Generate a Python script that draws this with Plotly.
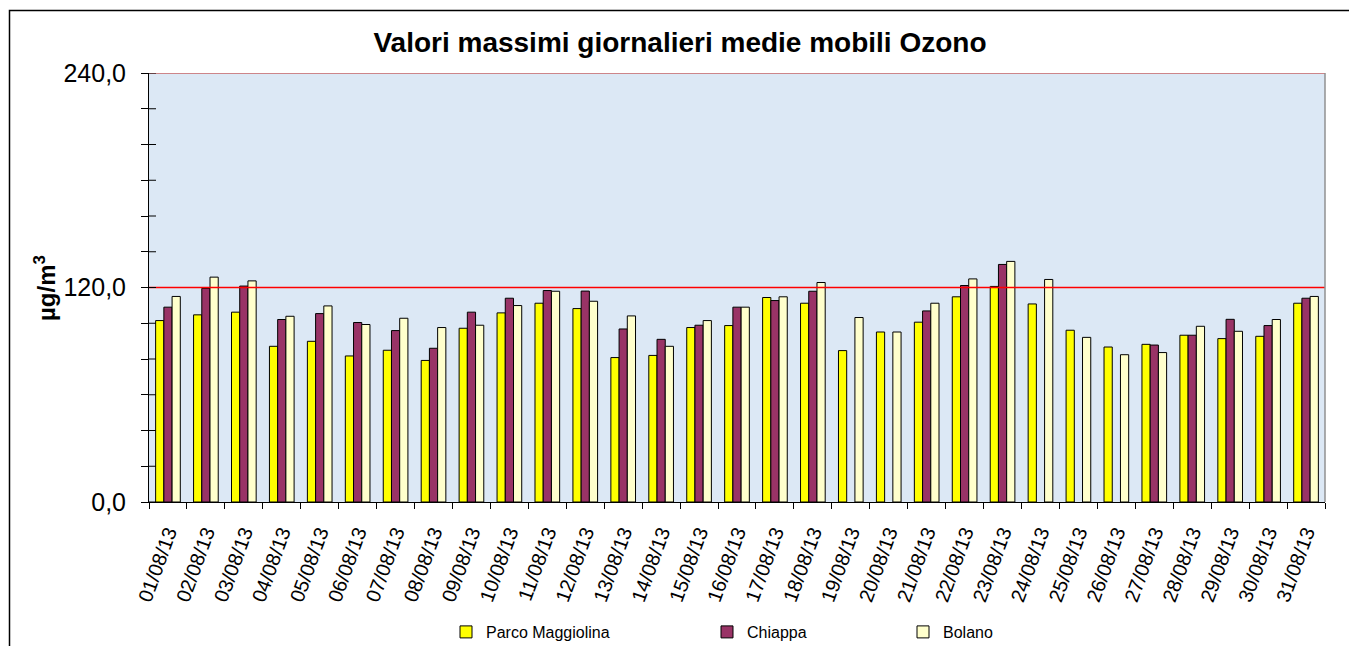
import plotly.graph_objects as go

days = [f"{d:02d}/08/13" for d in range(1, 32)]

parco = [101.5, 104.7, 106.2, 87.1, 89.9, 81.7, 84.9, 79.2, 97.2, 105.8,
         111.2, 108.2, 80.8, 82.0, 97.6, 98.7, 114.4, 111.2, 84.7, 95.1,
         100.6, 114.8, 120.6, 110.8, 96.1, 86.7, 88.2, 93.3, 91.4, 92.7, 111.2]
chiappa = [109.0, 119.5, 120.8, 102.1, 105.4, 100.4, 95.9, 86.0, 106.2, 114.0,
           118.3, 118.0, 96.8, 91.0, 98.9, 109.0, 112.7, 117.9, None, None,
           106.9, 121.1, 132.9, None, None, None, 87.8, 93.3, 102.2, 98.7, 114.0]
bolano = [115.0, 125.8, 123.7, 103.9, 109.7, 99.3, 102.8, 97.6, 98.9, 109.9,
          117.9, 112.3, 104.1, 87.1, 101.5, 109.0, 114.8, 122.8, 103.2, 95.1,
          111.2, 124.8, 134.6, 124.5, 92.1, 82.4, 83.6, 98.3, 95.5, 102.1, 115.0]

series_names = ["Parco Maggiolina", "Chiappa", "Bolano"]
series_colors = ["#ffff00", "#993366", "#ffffcc"]
threshold = 120
y_ticks = [0, 120, 240]
y_ticktext = ["0,0", "120,0", "240,0"]

FONT = "Arial, Liberation Sans, sans-serif"

fig = go.Figure()
for i, (name, vals, col) in enumerate(zip(series_names, [parco, chiappa, bolano], series_colors)):
    fig.add_trace(go.Bar(
        x=days, y=vals, name=name, showlegend=True,
        marker=dict(color=col, line=dict(color="black", width=1)),
        legend="legend" if i == 0 else f"legend{i+1}",
    ))

W, H = 1349, 646
L, R, T, B = 149, 24, 73, 144
pw, ph = W - L - R, H - T - B

def px_x(p):
    return (p - L) / pw

def px_y(p):
    return (H - B - p) / ph

legend_common = dict(orientation="h", yanchor="middle", xanchor="left",
                     xref="container", yref="container", visible=True,
                     font=dict(family=FONT, size=16, color="black"),
                     bgcolor="rgba(0,0,0,0)", y=1 - 632 / H)

# inner (cross) tick marks on the y axis, drawn as short shapes
cross_ticks = [dict(type="line", xref="paper", yref="y", x0=0, x1=px_x(L + 7),
                    y0=v, y1=v, line=dict(color="black", width=1))
               for v in range(0, 241, 20)]

fig.update_layout(
    width=W, height=H,
    showlegend=True,
    margin=dict(l=L, r=R, t=T, b=B, autoexpand=False),
    paper_bgcolor="white",
    plot_bgcolor="#dce8f5",
    font=dict(family=FONT, color="black"),
    barmode="group", bargap=0.35, bargroupgap=0,
    title=dict(text="<b>Valori massimi giornalieri medie mobili Ozono</b>",
               x=680 / W, xref="container", xanchor="center",
               y=1 - 42 / H, yref="container", yanchor="middle",
               font=dict(family=FONT, size=28, color="black")),
    legend=dict(x=446 / W, **legend_common),
    legend2=dict(x=707 / W, **legend_common),
    legend3=dict(x=903 / W, **legend_common),
    xaxis=dict(type="category", showgrid=False, showline=True, linecolor="black",
               linewidth=1, ticks="outside", ticklen=6, tickcolor="black",
               tickson="boundaries", tickangle=-70, automargin=False,
               ticklabelstandoff=10,
               range=[-0.5, len(days) - 0.5],
               tickfont=dict(family=FONT, size=20, color="black")),
    yaxis=dict(range=[0, 240], tickvals=y_ticks, ticktext=y_ticktext,
               showgrid=False, zeroline=False, showline=True, linecolor="black",
               linewidth=1, ticks="outside", ticklen=7, tickcolor="black",
               ticklabelstandoff=10, automargin=False,
               minor=dict(ticks="outside", dtick=20, ticklen=7, tickcolor="black"),
               tickfont=dict(family=FONT, size=25, color="black")),
    shapes=[
        dict(type="line", xref="paper", yref="y", x0=0, x1=1, y0=threshold, y1=threshold,
             line=dict(color="red", width=1.5)),
        dict(type="line", xref="paper", yref="y", x0=0, x1=1, y0=240, y1=240,
             line=dict(color="#c86464", width=1.5)),
        dict(type="line", xref="paper", yref="paper", x0=1, x1=1, y0=0, y1=1,
             line=dict(color="#909090", width=1.5)),
        dict(type="rect", xref="paper", yref="paper",
             x0=px_x(9.5), x1=px_x(1400), y0=px_y(700), y1=px_y(10.5),
             line=dict(color="black", width=1.5), layer="below"),
    ] + cross_ticks,
    annotations=[
        dict(text="<b>µg/m<sup>3</sup></b>", xref="paper", yref="paper",
             x=px_x(45), y=px_y(288), textangle=-90, showarrow=False,
             xanchor="center", yanchor="middle",
             font=dict(family=FONT, size=24, color="black")),
    ],
)

fig.write_html("out.html", config={"displayModeBar": False},
               post_script="document.body.style.margin='0';document.body.style.overflow='hidden';")
